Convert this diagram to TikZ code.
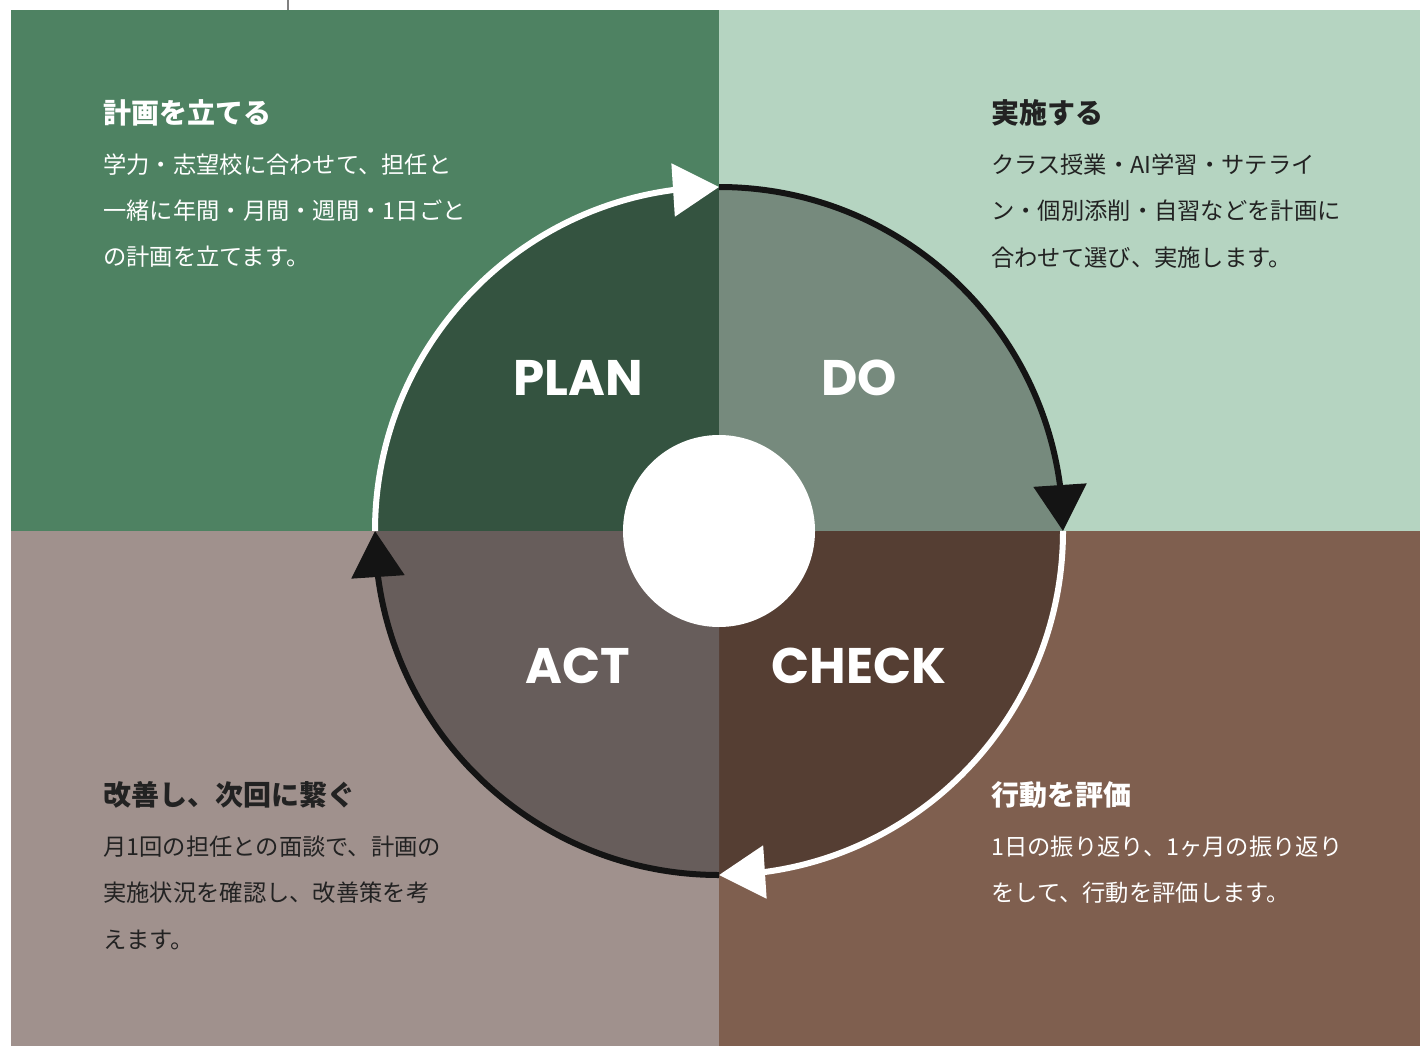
\documentclass[tikz,border=0pt]{standalone}
\usepackage{fontspec}
\newfontfamily\jp{Noto Sans CJK JP}
\newfontfamily\pdcafont{Poppins}
\usetikzlibrary{arrows.meta,bending}
\definecolor{tlbg}{HTML}{4E8262}
\definecolor{trbg}{HTML}{B5D4C1}
\definecolor{blbg}{HTML}{A0918D}
\definecolor{brbg}{HTML}{7F5F4F}
\definecolor{tlin}{HTML}{345340}
\definecolor{trin}{HTML}{768A7D}
\definecolor{blin}{HTML}{675D5B}
\definecolor{brin}{HTML}{553E33}
\definecolor{darktxt}{HTML}{222222}
\definecolor{ringblack}{HTML}{141414}
\begin{document}
\begin{tikzpicture}[x=1pt,y=-1pt,
  ring/.style={line width=6pt},
  arr/.style={-{Triangle[length=46pt,width=52pt]}},
  head/.style={anchor=west, inner sep=0pt, font=\jp\bfseries\fontsize{28}{34}\selectfont},
  body/.style={anchor=west, inner sep=0pt, font=\jp\fontsize{23.3}{30}\selectfont},
  pdca/.style={inner sep=0pt, text=white, font=\pdcafont\bfseries\fontsize{50}{60}\selectfont}]
\useasboundingbox (0,0) rectangle (1420,1046);
\fill[white] (0,0) rectangle (1420,1046);
% quadrants
\fill[tlbg] (11,10) rectangle (719,531);
\fill[trbg] (719,10) rectangle (1420,531);
\fill[blbg] (11,531) rectangle (719,1046);
\fill[brbg] (719,531) rectangle (1420,1046);
\draw[gray, line width=1.2pt] (288,0) -- (288,10);
% circle
\coordinate (c) at (719,531);
\fill[tlin] (c) -- ([shift={(180:344)}]c) arc[start angle=180, end angle=270, radius=344] -- cycle;
\fill[trin] (c) -- ([shift={(270:344)}]c) arc[start angle=270, end angle=360, radius=344] -- cycle;
\fill[brin] (c) -- ([shift={(0:344)}]c) arc[start angle=0, end angle=90, radius=344] -- cycle;
\fill[blin] (c) -- ([shift={(90:344)}]c) arc[start angle=90, end angle=180, radius=344] -- cycle;
\node[circle, fill=white, minimum size=192pt, inner sep=0pt] (hub) at (c) {};
% ring arrows
\draw[ring, white, arr] ([shift={(180:344)}]c) arc[start angle=180, end angle=270, radius=344];
\draw[ring, ringblack, arr] ([shift={(270:344)}]c) arc[start angle=270, end angle=360, radius=344];
\draw[ring, white, arr] ([shift={(0:344)}]c) arc[start angle=0, end angle=90, radius=344];
\draw[ring, ringblack, arr] ([shift={(90:344)}]c) arc[start angle=90, end angle=180, radius=344];
% labels
\node[pdca] (plan) at (578,378) {PLAN};
\node[pdca] (do) at (859,378) {DO};
\node[pdca] (act) at (578,666) {ACT};
\node[pdca] (check) at (859,666) {CHECK};
% texts TL
\node[head, text=white] (tlh) at (103,113) {計画を立てる};
\node[body, text=white] (tl1) at (103,165) {学力・志望校に合わせて、担任と};
\node[body, text=white] (tl2) at (103,211) {一緒に年間・月間・週間・1日ごと};
\node[body, text=white] (tl3) at (103,257) {の計画を立てます。};
% TR
\node[head, text=darktxt] (trh) at (991,113) {実施する};
\node[body, text=darktxt] (tr1) at (991,165) {クラス授業・AI学習・サテライ};
\node[body, text=darktxt] (tr2) at (991,211) {ン・個別添削・自習などを計画に};
\node[body, text=darktxt] (tr3) at (991,258) {合わせて選び、実施します。};
% BL
\node[head, text=darktxt] (blh) at (103,795) {改善し、次回に繋ぐ};
\node[body, text=darktxt] (bl1) at (103,847) {月1回の担任との面談で、計画の};
\node[body, text=darktxt] (bl2) at (103,893) {実施状況を確認し、改善策を考};
\node[body, text=darktxt] (bl3) at (103,940) {えます。};
% BR
\node[head, text=white] (brh) at (991,795) {行動を評価};
\node[body, text=white] (br1) at (991,847) {1日の振り返り、1ヶ月の振り返り};
\node[body, text=white] (br2) at (991,893) {をして、行動を評価します。};
\end{tikzpicture}
\end{document}
